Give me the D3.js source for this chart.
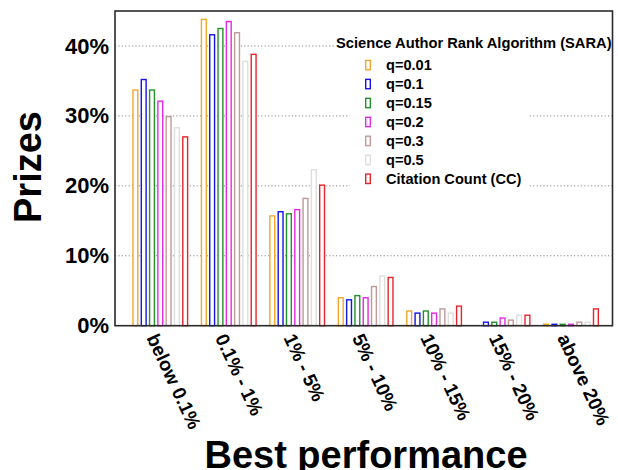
<!DOCTYPE html>
<html>
<head>
<meta charset="utf-8">
<script src="https://cdn.jsdelivr.net/npm/d3@7"></script>
<style>
  html, body { margin: 0; padding: 0; background: #fff; }
  svg { display: block; font-family: "Liberation Sans", Arial, Helvetica, sans-serif; }
</style>
</head>
<body>
<svg id="chart" width="618" height="470"></svg>
<script>
// ---- data ----
const categories = ["below 0.1%", "0.1% - 1%", "1% - 5%", "5% - 10%", "10% - 15%", "15% - 20%", "above 20%"];
const seriesNames = ["q=0.01", "q=0.1", "q=0.15", "q=0.2", "q=0.3", "q=0.5", "Citation Count (CC)"];
const seriesColors = ["#f4a62a", "#1414e6", "#23922a", "#e629e6", "#bf9a98", "#dedede", "#e8242c"];
const q001 = [33.8, 43.9, 15.8, 4.1, 2.2, 0.0, 0.3];
const q01  = [35.3, 41.7, 16.4, 3.8, 1.9, 0.6, 0.3];
const q015 = [33.8, 42.6, 16.1, 4.4, 2.2, 0.6, 0.3];
const q02  = [32.2, 43.6, 16.7, 4.1, 1.9, 1.2, 0.3];
const q03  = [30.0, 42.0, 18.3, 5.7, 2.5, 0.9, 0.6];
const q05  = [28.4, 37.9, 22.4, 7.2, 1.9, 1.6, 0.6];
const cc   = [27.1, 38.9, 20.2, 7.0, 2.9, 1.6, 2.5];
const seriesValues = [q001, q01, q015, q02, q03, q05, cc];
const yTicks = [0, 10, 20, 30, 40];
const legendTitle = "Science Author Rank Algorithm (SARA)";
const xTitle = "Best performance";
const yTitle = "Prizes";

// ---- layout ----
const svg = d3.select("#chart");
const plot = { left: 115, right: 612.5, top: 11, bottom: 325.7 };

const x = d3.scaleBand().domain(categories).range([117, 614.3]).paddingInner(0).paddingOuter(0.1326);
const xInner = d3.scaleBand().domain(seriesNames).range([-29.05, 29.05]).paddingInner(0.25).paddingOuter(0.125);
const y = d3.scaleLinear().domain([0, 45]).range([plot.bottom, plot.top]);

// gridlines
svg.append("g").selectAll("line").data(yTicks.filter(d => d > 0)).join("line")
  .attr("x1", plot.left).attr("x2", plot.right)
  .attr("y1", d => y(d)).attr("y2", d => y(d))
  .attr("stroke", "#8a8a8a").attr("stroke-width", 1).attr("stroke-dasharray", "1.2,2.2");

// legend backgrounds (cover gridlines)
svg.append("rect").attr("x", 335).attr("y", 34).attr("width", 277).attr("height", 18).attr("fill", "#fff");
svg.append("rect").attr("x", 350).attr("y", 55).attr("width", 178).attr("height", 134).attr("fill", "#fff");

// bars
const sw = 1.4;
const groups = svg.append("g").selectAll("g").data(categories).join("g")
  .attr("transform", d => `translate(${x(d) + x.bandwidth() / 2},0)`);
groups.selectAll("rect").data((c, ci) => seriesNames.map((s, si) => ({ s, si, v: seriesValues[si][ci] })))
  .join("rect")
  .filter(d => d.v > 0)
  .attr("x", d => xInner(d.s) + sw / 2)
  .attr("width", xInner.bandwidth() - sw)
  .attr("y", d => y(d.v) + sw / 2)
  .attr("height", d => Math.max(0, y(0) - y(d.v) - sw / 2))
  .attr("fill", "#fff")
  .attr("stroke", d => seriesColors[d.si])
  .attr("stroke-width", sw);

// frame
svg.append("rect")
  .attr("x", plot.left).attr("y", plot.top)
  .attr("width", plot.right - plot.left).attr("height", plot.bottom - plot.top)
  .attr("fill", "none").attr("stroke", "#2a2a2a").attr("stroke-width", 1.6);

// y tick labels
const yAxis = d3.axisLeft(y).tickValues(yTicks).tickFormat(d => d + "%").tickSize(0).tickPadding(6);
const ya = svg.append("g").attr("transform", `translate(${plot.left},0)`).call(yAxis);
ya.select(".domain").remove();
ya.selectAll("text").attr("font-size", 22).attr("font-weight", "bold").attr("fill", "#000")
  .attr("font-family", "Liberation Sans, Arial, sans-serif");

// x tick labels
const xAxis = d3.axisBottom(x).tickSize(0).tickPadding(0);
const xa = svg.append("g").attr("transform", `translate(0,${plot.bottom})`).call(xAxis);
xa.select(".domain").remove();
xa.selectAll("text")
  .attr("y", 0).attr("dy", 0)
  .attr("transform", "translate(-14,12) rotate(65)")
  .attr("text-anchor", "start")
  .attr("font-size", 19).attr("font-weight", "bold").attr("fill", "#000")
  .attr("font-family", "Liberation Sans, Arial, sans-serif");

// axis titles
svg.append("text").attr("x", 366).attr("y", 468).attr("text-anchor", "middle")
  .attr("font-size", 38).attr("font-weight", "bold").attr("fill", "#000").text(xTitle);
svg.append("text").attr("transform", "translate(41,167) rotate(-90)").attr("text-anchor", "middle")
  .attr("font-size", 38).attr("font-weight", "bold").attr("fill", "#000").text(yTitle);

// legend
svg.append("text").attr("x", 336).attr("y", 47.5).attr("font-size", 14.7).attr("font-weight", "bold")
  .attr("fill", "#000").text(legendTitle);
const leg = svg.append("g").selectAll("g").data(seriesNames).join("g")
  .attr("transform", (d, i) => `translate(0,${65 + i * 18.95})`);
leg.append("rect").attr("x", 365.7).attr("y", -4.6).attr("width", 4.6).attr("height", 9.4)
  .attr("fill", "#fff").attr("stroke", (d, i) => seriesColors[i]).attr("stroke-width", 1.4);
leg.append("text").attr("x", 386).attr("y", 5.2).attr("font-size", 14.6).attr("font-weight", "bold")
  .attr("fill", "#000").text(d => d);
</script>
</body>
</html>
